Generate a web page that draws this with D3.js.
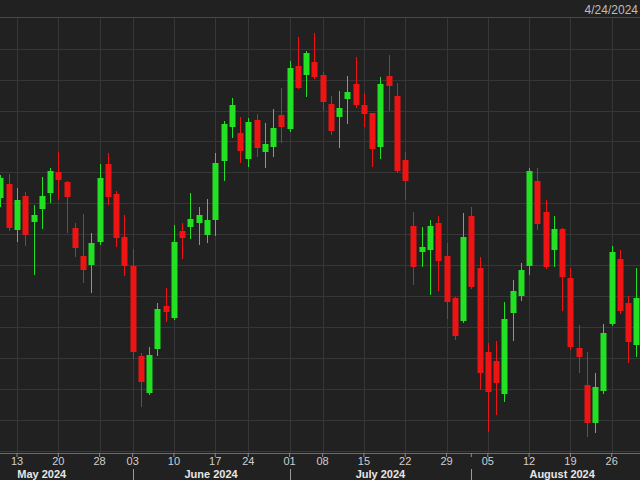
<!DOCTYPE html>
<html><head><meta charset="utf-8">
<script src="https://cdn.jsdelivr.net/npm/d3@7"></script>
<style>html,body{margin:0;padding:0;background:#212121;overflow:hidden}svg{display:block}</style>
</head><body>
<svg id="c" width="640" height="480"></svg>
<script>
// Trading days (visible candles)
const dates = [
"2024-05-09","2024-05-10","2024-05-13","2024-05-14","2024-05-15","2024-05-16","2024-05-17","2024-05-20","2024-05-21","2024-05-22",
"2024-05-23","2024-05-24","2024-05-28","2024-05-29","2024-05-30","2024-05-31","2024-06-03","2024-06-04","2024-06-05","2024-06-06",
"2024-06-07","2024-06-10","2024-06-11","2024-06-12","2024-06-13","2024-06-14","2024-06-17","2024-06-18","2024-06-20","2024-06-21",
"2024-06-24","2024-06-25","2024-06-26","2024-06-27","2024-06-28","2024-07-01","2024-07-02","2024-07-03","2024-07-05","2024-07-08",
"2024-07-09","2024-07-10","2024-07-11","2024-07-12","2024-07-15","2024-07-16","2024-07-17","2024-07-18","2024-07-19","2024-07-22",
"2024-07-23","2024-07-24","2024-07-25","2024-07-26","2024-07-29","2024-07-30","2024-07-31","2024-08-01","2024-08-02","2024-08-05",
"2024-08-06","2024-08-07","2024-08-08","2024-08-09","2024-08-12","2024-08-13","2024-08-14","2024-08-15","2024-08-16","2024-08-19",
"2024-08-20","2024-08-21","2024-08-22","2024-08-23","2024-08-26","2024-08-27","2024-08-28","2024-08-29"];
// Off-screen trading days that still occupy the axis
const leadDates = ["2024-05-01","2024-05-02","2024-05-03","2024-05-06","2024-05-07","2024-05-08"];
const tailDates = ["2024-08-30","2024-09-03"];

const open = [302,316,270,304,278,291,307,328,318,272,
244,235,258,336,306,263,234,144,107,151,
194,182,269,273,277,265,280,339,373,367,
341,380,348,353,385,371,434,425,438,425,
396,383,401,416,395,387,353,424,404,340,
274,248,250,277,244,202,179,284,232,148,
139,106,187,204,234,319,288,250,271,222,
152,115,77,109,176,241,197,155];
const high = [325,326,312,308,295,323,332,348,319,277,
286,267,336,347,309,285,251,147,153,197,
212,275,277,307,293,301,347,379,402,383,
382,386,377,391,412,439,463,449,467,428,
404,409,424,443,407,387,423,445,417,348,
288,273,280,284,257,203,287,293,243,157,
159,198,220,237,332,332,300,284,272,232,
175,148,127,176,254,250,204,232];
const low = [293,269,258,254,225,271,297,300,267,243,
217,207,255,295,253,224,141,93,105,144,
178,180,241,261,255,257,264,319,362,337,
333,343,332,343,357,368,411,403,421,389,
365,352,376,392,373,333,341,389,327,300,
215,233,205,209,181,160,177,211,110,68,
85,98,159,199,225,270,231,233,189,150,
127,63,67,106,174,186,137,143];
const close = [322,272,300,265,285,304,329,320,303,252,
230,257,322,303,262,234,148,118,145,191,
188,258,262,281,285,280,337,376,395,349,
378,352,356,372,373,432,412,447,423,398,
369,392,408,395,386,351,416,414,329,319,
233,253,274,239,198,164,263,213,127,108,
117,181,209,230,329,276,233,271,223,153,
143,77,113,167,248,189,158,202];

const gridValues = [49,80,111,142,173,204,235,266,297,328,359,389,420,451];
const tickDates = ["2024-05-13","2024-05-20","2024-05-28","2024-06-03","2024-06-10","2024-06-17","2024-06-24",
"2024-07-01","2024-07-08","2024-07-15","2024-07-22","2024-07-29","2024-08-05","2024-08-12","2024-08-19","2024-08-26"];
const monthStarts = ["2024-05-01","2024-06-03","2024-07-01","2024-08-01","2024-09-03"];
const monthLabels = ["May 2024","June 2024","July 2024","August 2024"];
const headerText = "4/24/2024";

const W = 640, H = 480;
const svg = d3.select("#c");
const allDates = leadDates.concat(dates, tailDates);
const step = 8.26;
const r0 = 17 - (allDates.indexOf("2024-05-13") + 0.5) * step;
const x = d3.scaleBand().domain(allDates).range([r0, r0 + step * allDates.length]).padding(0);
const cx = d => x(d) + x.bandwidth() / 2;
const y = d3.scaleLinear().domain([49, 482]).range([451, 18]);

const axisY = 453;
// background
svg.append("rect").attr("width", W).attr("height", H).attr("fill", "#212121");

// horizontal grid
svg.append("g").selectAll("line").data(gridValues).join("line")
  .attr("x1", 0).attr("x2", W)
  .attr("y1", d => Math.round(y(d)) + 0.5).attr("y2", d => Math.round(y(d)) + 0.5)
  .attr("stroke", "#373737").attr("stroke-width", 1);
// vertical grid
svg.append("g").selectAll("line").data(tickDates).join("line")
  .attr("x1", d => Math.round(cx(d)) + 0.5).attr("x2", d => Math.round(cx(d)) + 0.5)
  .attr("y1", 18).attr("y2", axisY)
  .attr("stroke", "#373737").attr("stroke-width", 1);
// header separator
svg.append("line").attr("x1", 0).attr("x2", W).attr("y1", 17.5).attr("y2", 17.5)
  .attr("stroke", "#484848").attr("stroke-width", 1);

// candles
const data = dates.map((d, i) => ({d, o: open[i], h: high[i], l: low[i], c: close[i]}));
const up = "#22e022", down = "#ee1414";
const g = svg.append("g");
g.selectAll("line").data(data).join("line")
  .attr("x1", d => Math.round(cx(d.d)) + 0.5).attr("x2", d => Math.round(cx(d.d)) + 0.5)
  .attr("y1", d => y(d.h)).attr("y2", d => y(d.l))
  .attr("stroke", d => d.c >= d.o ? up : down).attr("stroke-width", 1);
g.selectAll("rect").data(data).join("rect")
  .attr("x", d => Math.round(cx(d.d)) - 2.5)
  .attr("width", 6)
  .attr("y", d => y(Math.max(d.o, d.c)))
  .attr("height", d => Math.max(2, Math.abs(y(d.o) - y(d.c))))
  .attr("fill", d => d.c >= d.o ? up : down);

// bottom axis
svg.append("rect").attr("x", 0).attr("y", axisY).attr("width", W).attr("height", H - axisY).attr("fill", "#212121");
svg.append("line").attr("x1", 0).attr("x2", W).attr("y1", axisY + 0.5).attr("y2", axisY + 0.5)
  .attr("stroke", "#6a6a6a").attr("stroke-width", 1);
const ax = svg.append("g").attr("transform", `translate(0,${axisY})`)
  .call(d3.axisBottom(x).tickValues(tickDates.concat(["2024-08-01"])).tickSize(4).tickPadding(0)
    .tickFormat(d => tickDates.includes(d) ? d.slice(8) : ""));
ax.select(".domain").remove();
ax.selectAll(".tick line").attr("stroke", "#8a8a8a");
ax.selectAll(".tick text").attr("fill", "#cfcfcf")
  .style("font-family", "'Liberation Sans', Arial, sans-serif").style("font-size", "11px");

// month separators
svg.append("g").selectAll("line").data(monthStarts.slice(1, 4)).join("line")
  .attr("x1", d => Math.round(cx(d)) + 0.5).attr("x2", d => Math.round(cx(d)) + 0.5)
  .attr("y1", 469).attr("y2", H)
  .attr("stroke", "#9a9a9a").attr("stroke-width", 1);
// month labels
svg.append("g").selectAll("text").data(monthLabels).join("text")
  .attr("x", (d, i) => (cx(monthStarts[i]) + cx(monthStarts[i + 1])) / 2)
  .attr("y", 477.5)
  .attr("text-anchor", "middle")
  .attr("fill", "#e6e6e6")
  .style("font-family", "'Liberation Sans', Arial, sans-serif")
  .style("font-size", "11px").style("font-weight", "bold")
  .text(d => d);

// header date
svg.append("text").attr("x", 638).attr("y", 14)
  .attr("text-anchor", "end")
  .attr("fill", "#bdbdbd")
  .style("font-family", "'Liberation Sans', Arial, sans-serif").style("font-size", "12px")
  .text(headerText);
</script>
</body></html>
